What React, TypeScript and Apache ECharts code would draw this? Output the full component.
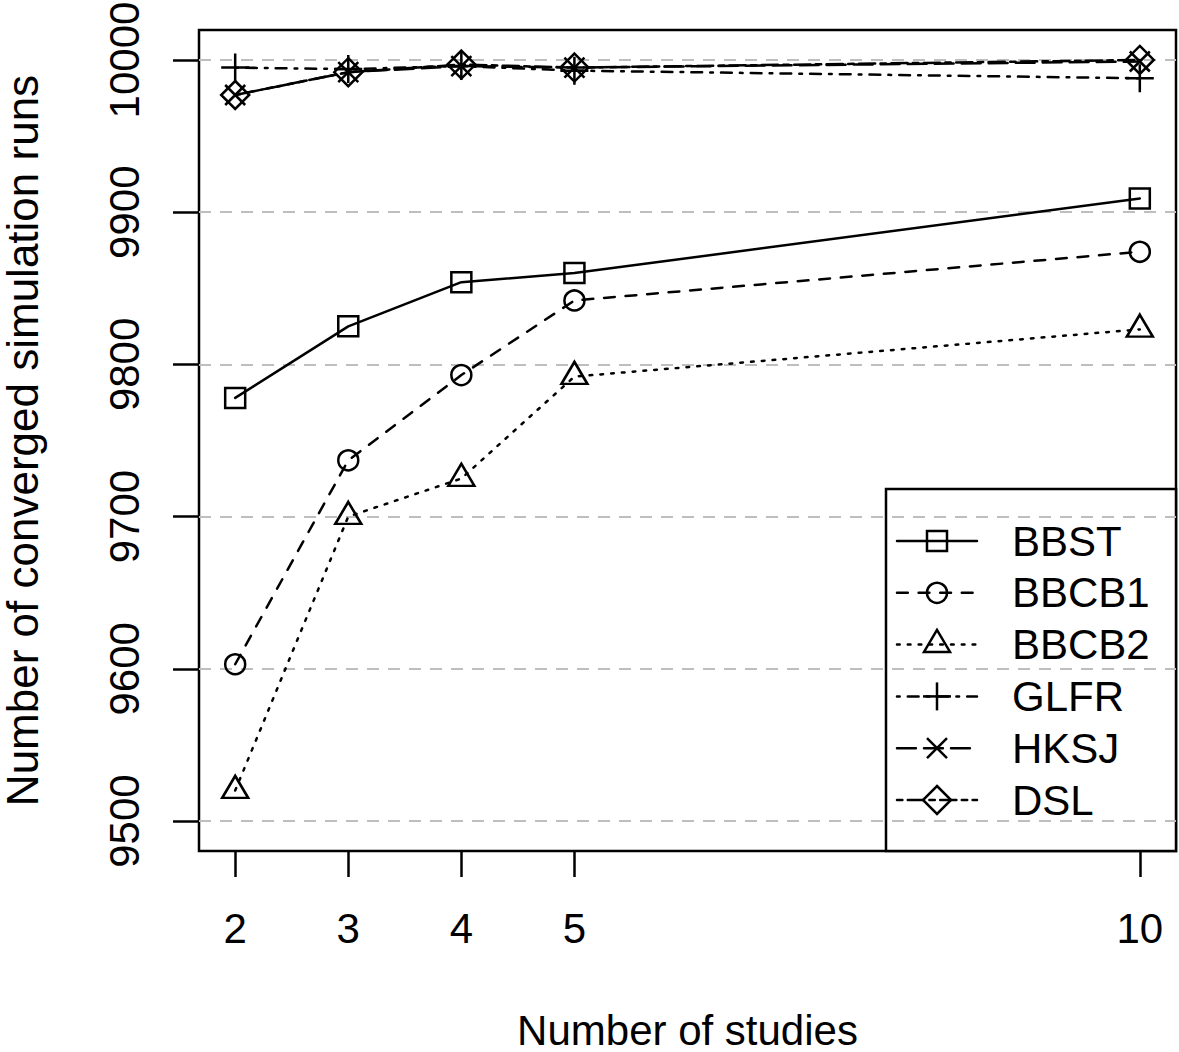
import React, { useEffect, useRef } from 'react';
import * as echarts from 'echarts';

const studies = [2, 3, 4, 5, 10];
const seriesNames = ['BBST', 'BBCB1', 'BBCB2', 'GLFR', 'HKSJ', 'DSL'];
const bbst = [9778, 9825, 9854, 9860, 9909];
const bbcb1 = [9603, 9737, 9793, 9842, 9874];
const bbcb2 = [9520, 9700, 9725, 9792, 9823];
const glfr = [9995, 9994, 9996, 9993, 9988];
const hksj = [9977, 9992, 9996, 9995, 9999];
const dsl = [9977, 9992, 9997, 9995, 10000];
const yTicks = [9500, 9600, 9700, 9800, 9900, 10000];
const xTicks = [2, 3, 4, 5, 10];

const FONT = '"Liberation Sans", Arial, Helvetica, sans-serif';
const LW = 2.5;
const U = 2.7;
const dashes: (number[] | 'solid')[] = [
  'solid',
  [4 * U, 4 * U],
  [1 * U, 3 * U],
  [1 * U, 3 * U, 4 * U, 3 * U],
  [7 * U, 3 * U],
  [2 * U, 2 * U, 6 * U, 2 * U],
];
const markerKinds = ['square', 'circle', 'triangle', 'plus', 'cross', 'diamond'];
const allValues = [bbst, bbcb1, bbcb2, glfr, hksj, dsl];

function symbolFor(kind: string): any {
  switch (kind) {
    case 'square':
      return { symbol: 'rect', symbolSize: 20 };
    case 'circle':
      return { symbol: 'circle', symbolSize: 20 };
    case 'triangle':
      return { symbol: 'triangle', symbolSize: [26, 22], symbolOffset: [0, -3.7] };
    case 'plus':
      return { symbol: 'path://M0,14 L28,14 M14,0 L14,28', symbolSize: 28 };
    case 'cross':
      return { symbol: 'path://M0,0 L20,20 M20,0 L0,20', symbolSize: 20 };
    default:
      return { symbol: 'diamond', symbolSize: 28 };
  }
}

function legendMarker(kind: string, cx: number, cy: number): any[] {
  const style = { fill: 'none', stroke: '#000', lineWidth: LW };
  switch (kind) {
    case 'square':
      return [{ type: 'rect', shape: { x: cx - 10, y: cy - 10, width: 20, height: 20 }, style }];
    case 'circle':
      return [{ type: 'circle', shape: { cx, cy, r: 10 }, style }];
    case 'triangle':
      return [{ type: 'polygon', shape: { points: [[cx, cy - 14.7], [cx - 13, cy + 7.3], [cx + 13, cy + 7.3]] }, style }];
    case 'plus':
      return [
        { type: 'line', shape: { x1: cx - 14, y1: cy, x2: cx + 14, y2: cy }, style },
        { type: 'line', shape: { x1: cx, y1: cy - 14, x2: cx, y2: cy + 14 }, style },
      ];
    case 'cross':
      return [
        { type: 'line', shape: { x1: cx - 10, y1: cy - 10, x2: cx + 10, y2: cy + 10 }, style },
        { type: 'line', shape: { x1: cx + 10, y1: cy - 10, x2: cx - 10, y2: cy + 10 }, style },
      ];
    default:
      return [{ type: 'polygon', shape: { points: [[cx, cy - 14], [cx + 14, cy], [cx, cy + 14], [cx - 14, cy]] }, style }];
  }
}

export default function App() {
  const ref = useRef<HTMLDivElement>(null);
  useEffect(() => {
    document.body.style.margin = '0';
    if (!ref.current) return;
    const chart = echarts.init(ref.current, undefined, { renderer: 'svg' });

    const series = seriesNames.map((name, i) => ({
      name,
      type: 'line',
      data: studies.map((s, j) => [s, allValues[i][j]]),
      ...symbolFor(markerKinds[i]),
      symbolKeepAspect: true,
      showAllSymbol: true,
      lineStyle: { color: '#000', width: LW, type: dashes[i], cap: 'round' },
      itemStyle: { color: 'rgba(0,0,0,0)', borderColor: '#000', borderWidth: LW },
      emphasis: { disabled: true },
      z: 3,
    }));

    const legendLeft = 886;
    const legendTop = 489;
    const rowY0 = 541;
    const rowGap = 51.8;
    const legendItems: any[] = [
      {
        type: 'rect',
        shape: { x: legendLeft, y: legendTop, width: 1176 - legendLeft, height: 851 - legendTop },
        style: { fill: '#fff', stroke: '#000', lineWidth: LW },
      },
    ];
    seriesNames.forEach((name, i) => {
      const cy = rowY0 + i * rowGap;
      legendItems.push({
        type: 'line',
        shape: { x1: 897, y1: cy, x2: 977, y2: cy },
        style: { stroke: '#000', lineWidth: LW, lineDash: dashes[i] === 'solid' ? null : dashes[i], lineCap: 'round' },
      });
      legendMarker(markerKinds[i], 937, cy).forEach((m) => legendItems.push(m));
      legendItems.push({
        type: 'text',
        x: 1012,
        y: cy,
        style: { text: name, font: `42px ${FONT}`, fill: '#000', textAlign: 'left', textVerticalAlign: 'middle' },
      });
    });

    chart.setOption({
      animation: false,
      backgroundColor: '#fff',
      grid: {
        left: 199,
        right: 3,
        top: 30,
        bottom: 201,
        show: true,
        borderColor: '#000',
        borderWidth: LW,
        backgroundColor: 'transparent',
        containLabel: false,
        outerBoundsMode: 'none',
      },
      xAxis: {
        type: 'value',
        min: 1.68,
        max: 10.32,
        axisLine: { show: false },
        axisTick: { show: true, length: 26, lineStyle: { color: '#000', width: LW }, customValues: xTicks },
        axisLabel: { customValues: xTicks, fontSize: 42, fontFamily: FONT, color: '#000', margin: 56, formatter: (v: number) => String(v) },
        splitLine: { show: false },
      },
      yAxis: {
        type: 'value',
        min: 9480.3,
        max: 10019.7,
        axisLine: { show: false },
        axisTick: { show: true, length: 26, lineStyle: { color: '#000', width: LW }, customValues: yTicks },
        axisLabel: { customValues: yTicks, fontSize: 42, fontFamily: FONT, color: '#000', margin: 54, rotate: 90, formatter: (v: number) => String(v) },
        splitLine: { show: true, lineStyle: { color: '#bebebe', width: 2, type: [12, 9] } },
      },
      series,
      graphic: [
        {
          type: 'group',
          z: 100,
          children: legendItems,
        },
        {
          type: 'text',
          z: 100,
          x: 687.5,
          y: 1030,
          style: { text: 'Number of studies', font: `42px ${FONT}`, fill: '#000', textAlign: 'center', textVerticalAlign: 'middle' },
        },
        {
          type: 'text',
          z: 100,
          x: 22,
          y: 440.5,
          rotation: Math.PI / 2,
          style: { text: 'Number of converged simulation runs', font: `44px ${FONT}`, fill: '#000', textAlign: 'center', textVerticalAlign: 'middle' },
        },
      ],
    });
    return () => chart.dispose();
  }, []);
  return <div ref={ref} style={{ width: 1179, height: 1052 }} />;
}
